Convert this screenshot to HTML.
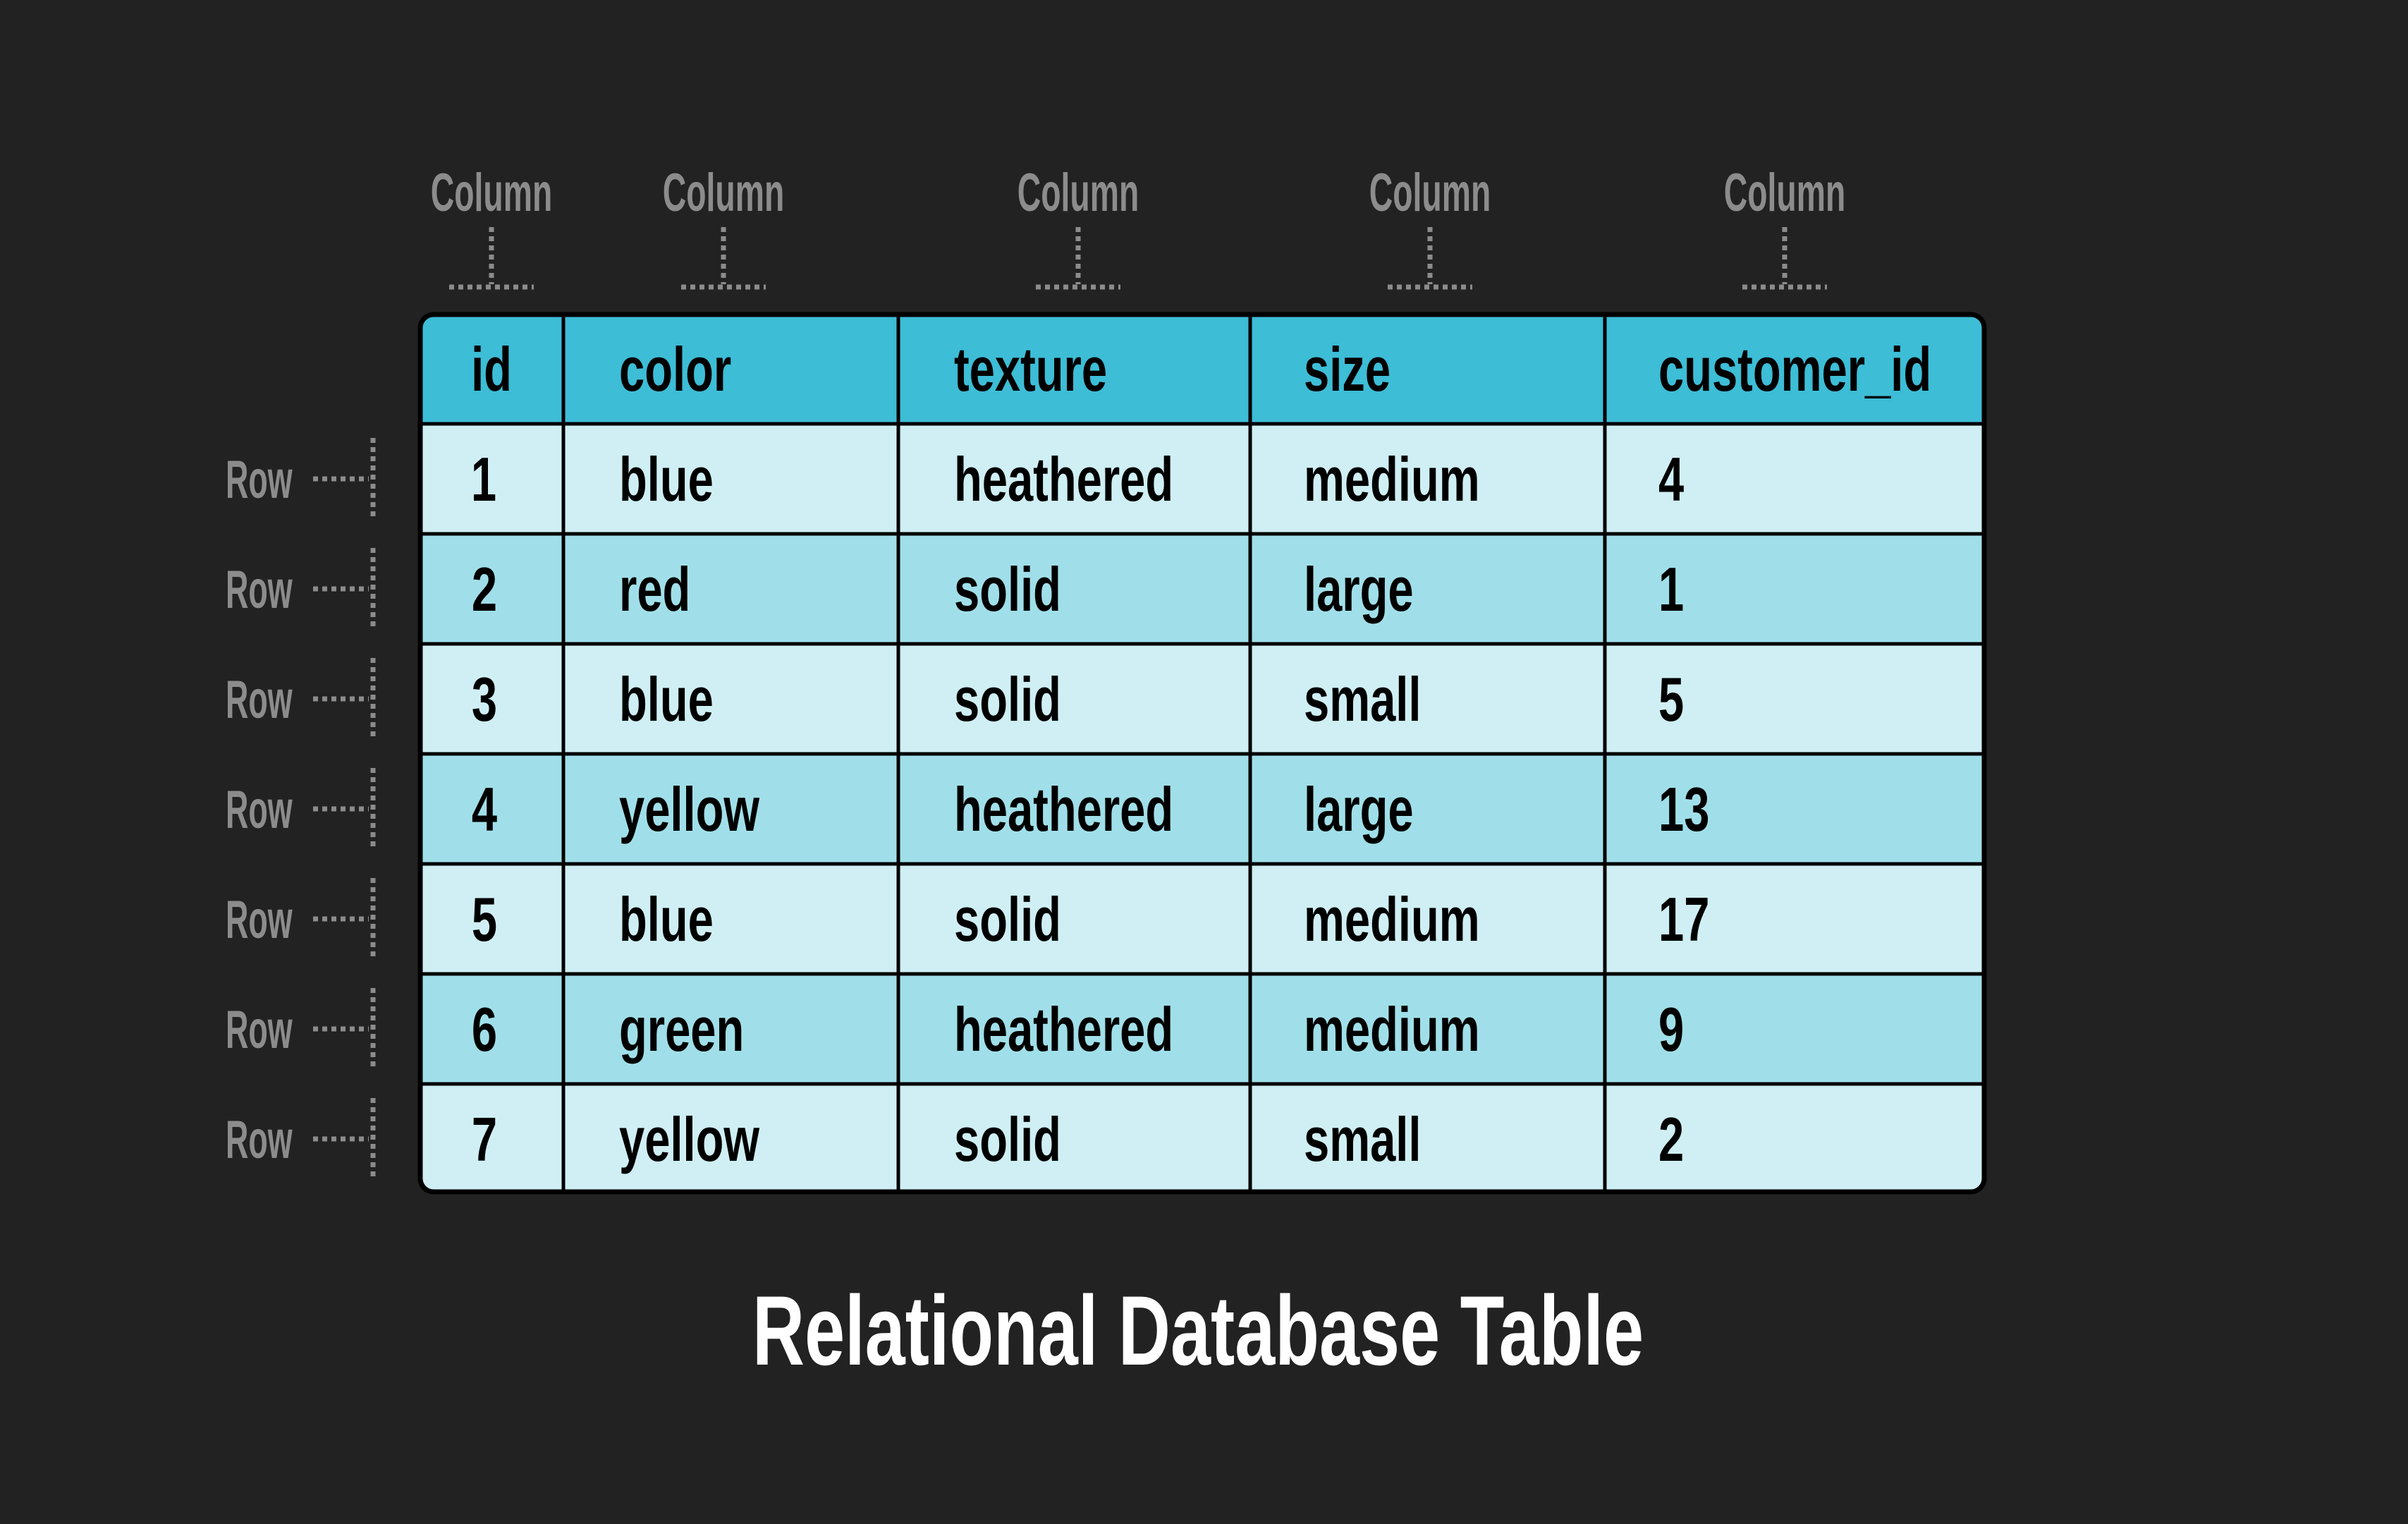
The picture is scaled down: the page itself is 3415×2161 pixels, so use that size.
<!DOCTYPE html>
<html><head><meta charset="utf-8"><style>
html,body{margin:0;padding:0;background:#222222;}
svg{display:block;}
text{font-family:"Liberation Sans",sans-serif;}
</style></head><body>
<svg width="3415" height="2161" viewBox="0 0 3415 2161" xmlns="http://www.w3.org/2000/svg">
<rect width="3415" height="2161" fill="#222222"/>
<defs><clipPath id="tc"><rect x="595" y="444" width="2221" height="1248" rx="20"/></clipPath></defs>
<g clip-path="url(#tc)">
<rect x="595" y="444" width="2221" height="157" fill="#3dbdd6"/>
<rect x="595" y="601" width="2221" height="156" fill="#cfeff4"/>
<rect x="595" y="757" width="2221" height="156" fill="#a0dfe9"/>
<rect x="595" y="913" width="2221" height="156" fill="#cfeff4"/>
<rect x="595" y="1069" width="2221" height="156" fill="#a0dfe9"/>
<rect x="595" y="1225" width="2221" height="156" fill="#cfeff4"/>
<rect x="595" y="1381" width="2221" height="156" fill="#a0dfe9"/>
<rect x="595" y="1537" width="2221" height="155" fill="#cfeff4"/>
</g>
<g stroke="#000" stroke-width="5">
<line x1="799" y1="444" x2="799" y2="1692"/><line x1="1274" y1="444" x2="1274" y2="1692"/>
<line x1="1773" y1="444" x2="1773" y2="1692"/><line x1="2276" y1="444" x2="2276" y2="1692"/>
<line x1="595" y1="601" x2="2816" y2="601"/><line x1="595" y1="757" x2="2816" y2="757"/>
<line x1="595" y1="913" x2="2816" y2="913"/><line x1="595" y1="1069" x2="2816" y2="1069"/>
<line x1="595" y1="1225" x2="2816" y2="1225"/><line x1="595" y1="1381" x2="2816" y2="1381"/>
<line x1="595" y1="1537" x2="2816" y2="1537"/>
</g>
<rect x="596" y="446" width="2218" height="1244" rx="19" fill="none" stroke="#000" stroke-width="7"/>

<g font-weight="bold" font-size="88" fill="#000">
<text transform="translate(697,554) scale(0.74,1)" text-anchor="middle">id</text>
<text transform="translate(878,554) scale(0.74,1)">color</text>
<text transform="translate(1353,554) scale(0.74,1)">texture</text>
<text transform="translate(1849,554) scale(0.74,1)">size</text>
<text transform="translate(2352,554) scale(0.74,1)">customer_id</text>

<text transform="translate(686,710) scale(0.74,1)" text-anchor="middle">1</text>
<text transform="translate(878,710) scale(0.74,1)">blue</text>
<text transform="translate(1353,710) scale(0.74,1)">heathered</text>
<text transform="translate(1849,710) scale(0.74,1)">medium</text>
<text transform="translate(2352,710) scale(0.74,1)">4</text>

<text transform="translate(687,866) scale(0.74,1)" text-anchor="middle">2</text>
<text transform="translate(878,866) scale(0.74,1)">red</text>
<text transform="translate(1353,866) scale(0.74,1)">solid</text>
<text transform="translate(1849,866) scale(0.74,1)">large</text>
<text transform="translate(2352,866) scale(0.74,1)">1</text>

<text transform="translate(687,1022) scale(0.74,1)" text-anchor="middle">3</text>
<text transform="translate(878,1022) scale(0.74,1)">blue</text>
<text transform="translate(1353,1022) scale(0.74,1)">solid</text>
<text transform="translate(1849,1022) scale(0.74,1)">small</text>
<text transform="translate(2352,1022) scale(0.74,1)">5</text>

<text transform="translate(687,1178) scale(0.74,1)" text-anchor="middle">4</text>
<text transform="translate(878,1178) scale(0.74,1)">yellow</text>
<text transform="translate(1353,1178) scale(0.74,1)">heathered</text>
<text transform="translate(1849,1178) scale(0.74,1)">large</text>
<text transform="translate(2352,1178) scale(0.74,1)">13</text>

<text transform="translate(687,1334) scale(0.74,1)" text-anchor="middle">5</text>
<text transform="translate(878,1334) scale(0.74,1)">blue</text>
<text transform="translate(1353,1334) scale(0.74,1)">solid</text>
<text transform="translate(1849,1334) scale(0.74,1)">medium</text>
<text transform="translate(2352,1334) scale(0.74,1)">17</text>

<text transform="translate(687,1490) scale(0.74,1)" text-anchor="middle">6</text>
<text transform="translate(878,1490) scale(0.74,1)">green</text>
<text transform="translate(1353,1490) scale(0.74,1)">heathered</text>
<text transform="translate(1849,1490) scale(0.74,1)">medium</text>
<text transform="translate(2352,1490) scale(0.74,1)">9</text>

<text transform="translate(687,1646) scale(0.74,1)" text-anchor="middle">7</text>
<text transform="translate(878,1646) scale(0.74,1)">yellow</text>
<text transform="translate(1353,1646) scale(0.74,1)">solid</text>
<text transform="translate(1849,1646) scale(0.74,1)">small</text>
<text transform="translate(2352,1646) scale(0.74,1)">2</text>
</g>

<g font-size="76" font-weight="bold" fill="#8c8c8c">
<text transform="translate(697,299) scale(0.61,1)" text-anchor="middle">Column</text>
<text transform="translate(1026,299) scale(0.61,1)" text-anchor="middle">Column</text>
<text transform="translate(1529,299) scale(0.61,1)" text-anchor="middle">Column</text>
<text transform="translate(2028,299) scale(0.61,1)" text-anchor="middle">Column</text>
<text transform="translate(2531,299) scale(0.61,1)" text-anchor="middle">Column</text>
</g>
<g stroke="#8c8c8c" stroke-width="7" stroke-dasharray="7 6" fill="none">
<path d="M697 322V403M637 407H757"/>
<path d="M1026 322V403M966 407H1086"/>
<path d="M1529 322V403M1469 407H1589"/>
<path d="M2028 322V403M1968 407H2088"/>
<path d="M2531 322V403M2471 407H2591"/>
</g>

<g font-size="76" font-weight="bold" fill="#8c8c8c">
<text transform="translate(320,706) scale(0.59,1)">Row</text>
<text transform="translate(320,862) scale(0.59,1)">Row</text>
<text transform="translate(320,1018) scale(0.59,1)">Row</text>
<text transform="translate(320,1174) scale(0.59,1)">Row</text>
<text transform="translate(320,1330) scale(0.59,1)">Row</text>
<text transform="translate(320,1486) scale(0.59,1)">Row</text>
<text transform="translate(320,1642) scale(0.59,1)">Row</text>
</g>
<g stroke="#8c8c8c" stroke-width="7" stroke-dasharray="7 6" fill="none">
<path d="M444 679H523M529 621V737"/>
<path d="M444 835H523M529 777V893"/>
<path d="M444 991H523M529 933V1049"/>
<path d="M444 1147H523M529 1089V1205"/>
<path d="M444 1303H523M529 1245V1361"/>
<path d="M444 1459H523M529 1401V1517"/>
<path d="M444 1615H523M529 1557V1673"/>
</g>

<text transform="translate(1699,1935) scale(0.733,1)" text-anchor="middle" font-size="140" font-weight="bold" fill="#ffffff">Relational Database Table</text>
</svg>
</body></html>
